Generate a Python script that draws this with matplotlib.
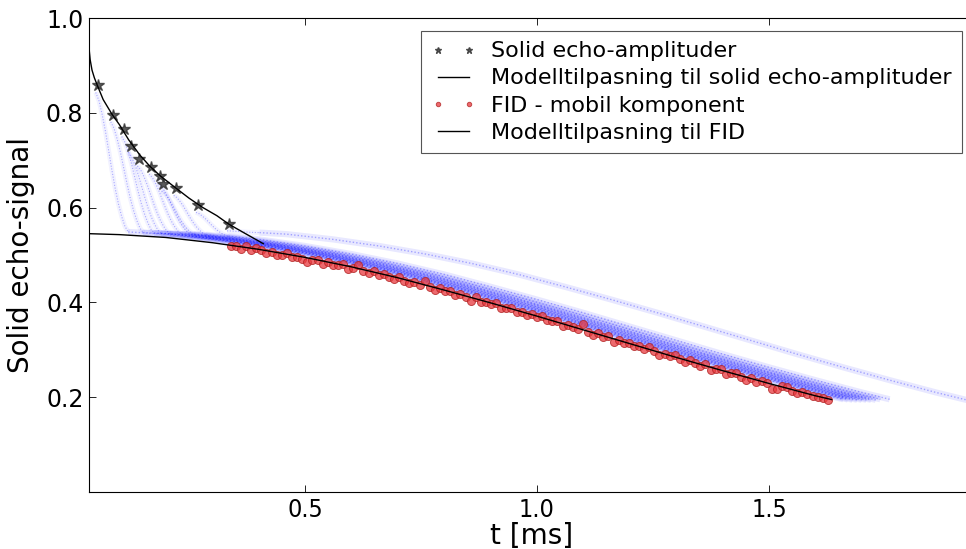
import numpy as np
import matplotlib
matplotlib.use("Agg")
import matplotlib.pyplot as plt

# Solid echo-amplituder (stjerner)
star_t = [0.053, 0.0855, 0.109, 0.124, 0.143, 0.168, 0.188, 0.195, 0.221, 0.269, 0.336]
star_y = [0.858, 0.796, 0.765, 0.731, 0.703, 0.686, 0.666, 0.650, 0.641, 0.605, 0.566]

# Modelltilpasning til solid echo-amplituder
se_fit_t = [0.0345, 0.037, 0.041, 0.046, 0.052, 0.065, 0.084, 0.10, 0.12, 0.144, 0.165,
            0.188, 0.222, 0.25, 0.28, 0.31, 0.336, 0.37, 0.41]
se_fit_y = [0.937, 0.912, 0.890, 0.874, 0.859, 0.828, 0.797, 0.775, 0.743, 0.711, 0.688,
            0.667, 0.641, 0.620, 0.600, 0.583, 0.565, 0.546, 0.524]

# Modelltilpasning til FID
fid_fit_t = [0.0345, 0.1, 0.2, 0.3, 0.4, 0.5, 0.6, 0.7, 0.8, 0.9, 1.0, 1.1, 1.2, 1.3,
             1.4, 1.5, 1.6, 1.635]
fid_fit_y = [0.545, 0.543, 0.537, 0.526, 0.512, 0.495, 0.475, 0.452, 0.426, 0.399, 0.371,
             0.342, 0.313, 0.284, 0.256, 0.229, 0.203, 0.195]

# FID - mobil komponent (roede punkter), jevnt samplet
fid_t = np.linspace(0.34, 1.627, 118)
fid_y = [0.518, 0.520, 0.513, 0.519, 0.511, 0.515,
         0.510, 0.505, 0.507, 0.499, 0.501, 0.504, 0.495, 0.496, 0.492,
         0.485, 0.489, 0.489, 0.481, 0.486, 0.479, 0.479, 0.482, 0.471,
         0.473, 0.479, 0.466, 0.461, 0.466, 0.457, 0.459, 0.454, 0.449,
         0.454, 0.446, 0.440, 0.444, 0.437, 0.446, 0.433, 0.427, 0.430,
         0.423, 0.423, 0.415, 0.418, 0.412, 0.404, 0.411, 0.401, 0.401,
         0.397, 0.398, 0.388, 0.389, 0.389, 0.380, 0.380, 0.373, 0.375,
         0.369, 0.372, 0.362, 0.361, 0.360, 0.350, 0.353, 0.348, 0.343, 0.354,
         0.338, 0.332, 0.335, 0.328, 0.329, 0.317, 0.320, 0.314, 0.315,
         0.308, 0.309, 0.301, 0.305, 0.298, 0.289, 0.292, 0.286, 0.288,
         0.281, 0.275, 0.278, 0.273, 0.266, 0.269, 0.258, 0.259, 0.259,
         0.250, 0.251, 0.251, 0.243, 0.236, 0.240, 0.233, 0.235, 0.229,
         0.218, 0.217, 0.223, 0.222, 0.214, 0.209, 0.210, 0.206, 0.202,
         0.200, 0.199, 0.195]

# Solid echo-signaler (blaa spor): fall fra ekko-amplitude ned til mobilt nivaa,
# deretter sakte henfall (forskjoevet i tid) til slutten av opptaket
tail_t = [0.0, 0.1, 0.2, 0.3, 0.4, 0.5, 0.6, 0.7, 0.8, 0.9, 1.0, 1.1, 1.2, 1.3, 1.4,
          1.5, 1.6, 1.7, 1.8, 1.9]
tail_y = [0.552, 0.550, 0.544, 0.533, 0.519, 0.502, 0.482, 0.459, 0.433, 0.406, 0.378,
          0.349, 0.320, 0.291, 0.263, 0.236, 0.210, 0.186, 0.163, 0.142]
drop_frac = [0.0, 0.1, 0.2, 0.3, 0.4, 0.5, 0.6, 0.7, 0.8, 0.9, 1.0]
drop_left = [1.0, 0.94, 0.84, 0.72, 0.58, 0.44, 0.31, 0.2, 0.11, 0.04, 0.0]
trace_shift = [0.0, 0.008, 0.016, 0.025, 0.035, 0.045, 0.055, 0.065, 0.08, 0.10, 0.26]
trace_end = [1.66, 1.67, 1.68, 1.69, 1.70, 1.71, 1.72, 1.73, 1.74, 1.76, 1.95]
drop_width = 0.07

fig = plt.figure(figsize=(9.66, 5.49), dpi=100)
ax = fig.add_axes([89 / 966, 57 / 549, 886 / 966, 474 / 549])

# Blaa spor
for xs, ys, d, xe in zip(star_t, star_y, trace_shift, trace_end):
    xk = xs + drop_width
    base = np.interp(xk - d, tail_t, tail_y)
    dx = [xs - 0.004 + f * drop_width for f in drop_frac]
    dy = [base + r * (ys - 0.015 - base) for r in drop_left]
    tx = [t + d for t in tail_t if xk < t + d < xe]
    ty = [y for t, y in zip(tail_t, tail_y) if xk < t + d < xe]
    ye = np.interp(xe - d, tail_t, tail_y)
    ax.plot(dx, dy, color='#0000ff', lw=3.5, alpha=0.05, solid_capstyle='butt')
    ax.plot(dx, dy, color='#0000ff', lw=0.8, alpha=0.3, ls=(0, (1, 1.5)))
    ax.plot([dx[-1]] + tx + [xe], [dy[-1]] + ty + [ye], color='#0000ff', lw=4.5,
            alpha=0.09, solid_capstyle='butt')
    ax.plot([dx[-1]] + tx + [xe], [dy[-1]] + ty + [ye], color='#0000ff', lw=1.0,
            alpha=0.3, ls=(0, (1, 1.5)))

ax.plot(star_t, star_y, '*', color='#333333', alpha=0.8, ms=9, mec='#333333',
        label='Solid echo-amplituder')
ax.plot(se_fit_t, se_fit_y, '-', color='black', lw=1.0,
        label='Modelltilpasning til solid echo-amplituder')
ax.plot(fid_t, fid_y, 'o', color='#e8383d', alpha=0.75, ms=5.8, mec='#b02020', mew=0.7,
        label='FID - mobil komponent')
ax.plot(fid_fit_t, fid_fit_y, '-', color='black', lw=1.0,
        label='Modelltilpasning til FID')

ax.set_xlim(0.0345, 1.944)
ax.set_ylim(0.0, 1.0)
ax.set_xticks([0.5, 1.0, 1.5])
ax.set_yticks([0.2, 0.4, 0.6, 0.8, 1.0])
ax.tick_params(direction='in', top=True, right=True, length=5, width=0.6, pad=4)
for lab in ax.get_yticklabels():
    lab.set_fontsize(17)
for lab in ax.get_xticklabels():
    lab.set_fontsize(18)
    lab.set_fontstretch('condensed')
for sp in ax.spines.values():
    sp.set_linewidth(0.8)

ax.set_xlabel('t [ms]', fontsize=20, labelpad=0)
ax.set_ylabel('Solid echo-signal', fontsize=20, labelpad=8)

leg = ax.legend(loc='upper right', fontsize=16, numpoints=2, markerscale=0.55,
                fancybox=False, framealpha=1, edgecolor='#555555', labelspacing=0.32,
                borderaxespad=0.6, handlelength=2.0, handletextpad=0.7, borderpad=0.45)
leg.get_frame().set_linewidth(0.8)

fig.savefig('out.png', dpi=100)
